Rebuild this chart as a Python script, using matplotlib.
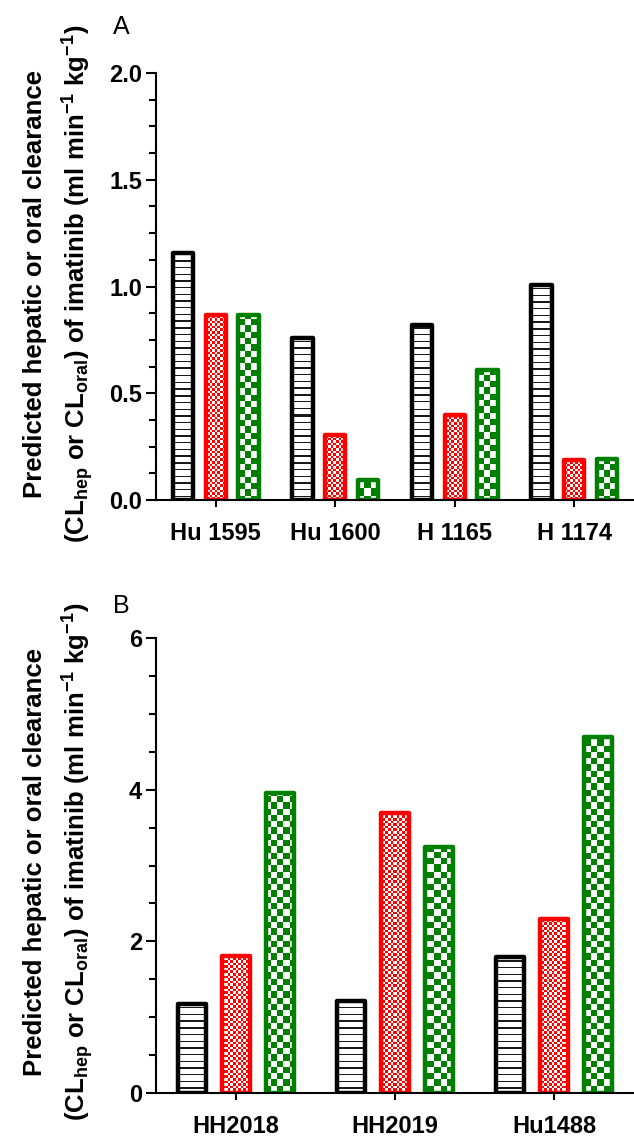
import numpy as np
import matplotlib
matplotlib.use('Agg')
import matplotlib.pyplot as plt
from matplotlib.ticker import MultipleLocator, FormatStrFormatter

plt.rcParams['font.family'] = ['Liberation Sans', 'DejaVu Sans']
plt.rcParams['mathtext.fontset'] = 'custom'
plt.rcParams['mathtext.bf'] = 'Liberation Sans:bold'
plt.rcParams['mathtext.rm'] = 'Liberation Sans:bold'
plt.rcParams['mathtext.default'] = 'bf'

# panel A
groups_a = ['Hu 1595', 'Hu 1600', 'H 1165', 'H 1174']
black_a = [1.157, 0.759, 0.82, 1.007]
red_a = [0.866, 0.304, 0.398, 0.187]
green_a = [0.866, 0.094, 0.609, 0.192]

# panel B
groups_b = ['HH2018', 'HH2019', 'Hu1488']
black_b = [1.18, 1.21, 1.79]
red_b = [1.81, 3.69, 2.29]
green_b = [3.95, 3.25, 4.69]

W, H, DPI = 634, 1137, 100
fig = plt.figure(figsize=(W / DPI, H / DPI), dpi=DPI)


def px_axes(left, top, right, bottom):
    return fig.add_axes([left / W, 1 - bottom / H, (right - left) / W, (bottom - top) / H])


def texture(kind, w, h):
    # pixel-level fill patterns: stripes, fine checks, coarse checks
    yy, xx = np.mgrid[0:h, 0:w]
    img = np.ones((h, w, 3))
    if kind == 'lines':
        on = (yy % 6.7) < 1.4
        img[on] = (0.1, 0.1, 0.1)
    elif kind == 'fine':
        on = ((xx // 2.6 + yy // 2.6) % 2) == 0
        img[on] = (1.0, 0.0, 0.0)
    else:
        on = ((xx // 6.3 + yy // 6.3) % 2) == 0
        img[on] = (0.0, 0.5, 0.0)
    return img


def panel(ax, groups, blacks, reds, greens, ymax, major, minor, width, step):
    x = np.arange(len(groups))
    xlim = (-0.5, len(groups) - 0.5)
    ylim = (0, ymax)
    ax.set_xlim(xlim)
    ax.set_ylim(ylim)
    bb = ax.get_window_extent()
    w, h = int(round(bb.width)), int(round(bb.height))
    series = [(blacks, 'black', 'lines'), (reds, '#ff0000', 'fine'), (greens, '#008000', 'check')]
    for i, (vals, edge, kind) in enumerate(series):
        bars = ax.bar(x + (i - 1) * step, vals, width, facecolor='none', edgecolor=edge,
                      linewidth=3.2, joinstyle='round', zorder=3)
        img = texture(kind, w, h)
        for b in bars:
            im = ax.imshow(img, extent=(xlim[0], xlim[1], ylim[0], ylim[1]), aspect='auto',
                           interpolation='nearest', zorder=2)
            im.set_clip_path(b)
    ax.set_xlim(xlim)
    ax.set_ylim(ylim)
    ax.set_xticks(x)
    ax.set_xticklabels(groups, fontweight='bold', fontsize=17)
    ax.yaxis.set_major_locator(MultipleLocator(major))
    ax.yaxis.set_minor_locator(MultipleLocator(minor))
    ax.tick_params(axis='y', which='major', direction='out', length=7, width=1.5, pad=3,
                   labelsize=17)
    ax.tick_params(axis='y', which='minor', direction='out', length=5, width=1.5)
    ax.tick_params(axis='x', which='major', direction='out', length=5, width=1.5, pad=11)
    ax.tick_params(axis='x', which='minor', bottom=False)
    for s in ['top', 'right']:
        ax.spines[s].set_visible(False)
    for s in ['left', 'bottom']:
        ax.spines[s].set_linewidth(1.5)
        ax.spines[s].set_zorder(4)


ax_a = px_axes(156, 73, 634, 500)
panel(ax_a, groups_a, black_a, red_a, green_a, 2.0, 0.5, 0.125, 0.17, 0.275)
ax_a.yaxis.set_major_formatter(FormatStrFormatter('%.1f'))

ax_b = px_axes(156, 638, 634, 1093)
panel(ax_b, groups_b, black_b, red_b, green_b, 6, 2, 0.5, 0.176, 0.276)

for ax in [ax_a, ax_b]:
    for lab in ax.get_yticklabels():
        lab.set_fontweight('bold')

line1 = 'Predicted hepatic or oral clearance'
line2 = r'(CL$_{\mathbf{hep}}$ or CL$_{\mathbf{oral}}$) of imatinib (ml min$^{\mathbf{-1}}$ kg$^{\mathbf{-1}}$)'
for cy in [284, 862]:
    fig.text(35 / W, 1 - cy / H, line1, rotation=90, ha='center', va='center',
             fontsize=18.5, fontweight='bold')
    fig.text(78 / W, 1 - cy / H, line2, rotation=90, ha='center', va='center',
             fontsize=18.5, fontweight='bold')

fig.text(113 / W, 1 - 34 / H, 'A', fontsize=18, ha='left', va='baseline')
fig.text(113 / W, 1 - 613 / H, 'B', fontsize=18, ha='left', va='baseline')

fig.savefig('out.png', dpi=DPI)
